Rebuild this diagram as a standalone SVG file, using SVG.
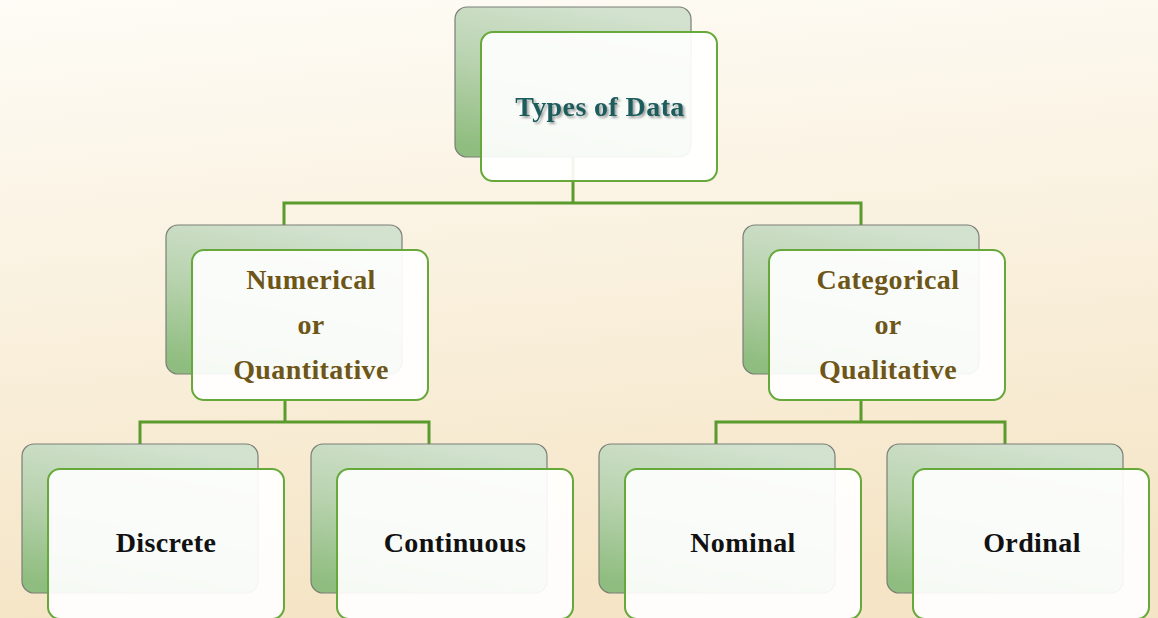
<svg xmlns="http://www.w3.org/2000/svg" width="1158" height="618" viewBox="0 0 1158 618">
<defs>
<linearGradient id="bg" x1="0" y1="0" x2="0.15" y2="1">
<stop offset="0" stop-color="#fefcf6"/>
<stop offset="1" stop-color="#f5e5c6"/>
</linearGradient>
<linearGradient id="back" x1="0.6" y1="0" x2="0.3" y2="1">
<stop offset="0" stop-color="#d3e2cf"/>
<stop offset="0.5" stop-color="#b7d2ad"/>
<stop offset="1" stop-color="#8fbd7f"/>
</linearGradient>
<filter id="sh" x="-10%" y="-30%" width="120%" height="160%">
<feDropShadow dx="2" dy="2" stdDeviation="1.2" flood-color="#000" flood-opacity="0.35"/>
</filter>
</defs>
<style>
.back{fill:url(#back);stroke:#7a7f76;stroke-width:1.2}
.front{fill:#ffffff;fill-opacity:0.92;stroke:#66a83a;stroke-width:2}
.conn{fill:none;stroke:#5b9a2c;stroke-width:3}
text{font-family:"Liberation Serif","DejaVu Serif",serif;font-weight:bold;font-size:28px;letter-spacing:0.4px;text-anchor:middle}
.t0{fill:#1e5b5c}
.t1{fill:#6e5518}
.t2{fill:#111}
</style>
<rect width="1158" height="618" fill="url(#bg)"/>
<g id="connectors">
<path class="conn" d="M573 157V203M284 226V203H861V226"/>
<path class="conn" d="M285 400V422M140 445V422H429V445"/>
<path class="conn" d="M861 400V422M716 445V422H1005V445"/>
</g>
<g id="n-types">
<rect class="back" x="455" y="7" width="236" height="150" rx="12"/>
<rect class="front" x="481" y="32" width="236" height="149" rx="12"/>
<text class="t0" x="600" y="116" filter="url(#sh)">Types of Data</text>
</g>
<g id="n-numerical">
<rect class="back" x="166" y="225" width="236" height="149" rx="12"/>
<rect class="front" x="192" y="250" width="236" height="150" rx="12"/>
<text class="t1" x="311" y="289">Numerical</text>
<text class="t1" x="311" y="334">or</text>
<text class="t1" x="311" y="379">Quantitative</text>
</g>
<g id="n-categorical">
<rect class="back" x="743" y="225" width="236" height="149" rx="12"/>
<rect class="front" x="769" y="250" width="236" height="150" rx="12"/>
<text class="t1" x="888" y="289">Categorical</text>
<text class="t1" x="888" y="334">or</text>
<text class="t1" x="888" y="379">Qualitative</text>
</g>
<g id="n-discrete">
<rect class="back" x="22" y="444" width="236" height="149" rx="12"/>
<rect class="front" x="48" y="469" width="236" height="150" rx="12"/>
<text class="t2" x="166" y="552">Discrete</text>
</g>
<g id="n-continuous">
<rect class="back" x="311" y="444" width="236" height="149" rx="12"/>
<rect class="front" x="337" y="469" width="236" height="150" rx="12"/>
<text class="t2" x="455" y="552">Continuous</text>
</g>
<g id="n-nominal">
<rect class="back" x="599" y="444" width="236" height="149" rx="12"/>
<rect class="front" x="625" y="469" width="236" height="150" rx="12"/>
<text class="t2" x="743" y="552">Nominal</text>
</g>
<g id="n-ordinal">
<rect class="back" x="887" y="444" width="236" height="149" rx="12"/>
<rect class="front" x="913" y="469" width="236" height="150" rx="12"/>
<text class="t2" x="1032" y="552">Ordinal</text>
</g>
</svg>
